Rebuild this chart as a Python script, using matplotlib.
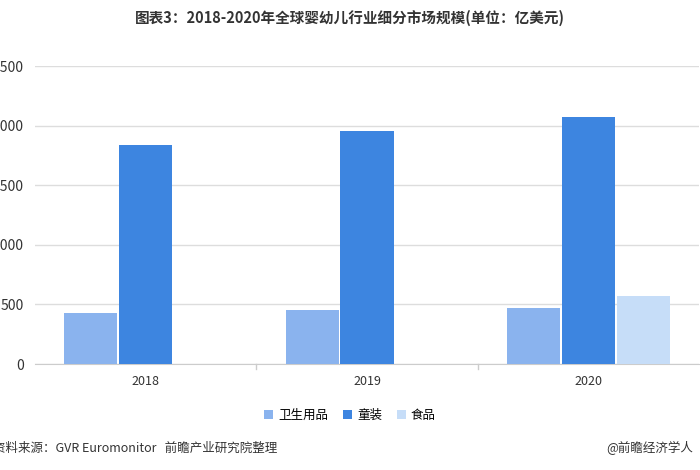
import matplotlib
matplotlib.use("Agg")
import matplotlib.pyplot as plt
import numpy as np

plt.rcParams['font.family'] = ['Noto Sans CJK SC', 'DejaVu Sans']

years = ['2018', '2019', '2020']
series = ['卫生用品', '童装', '食品']
hygiene = [430, 450, 467]
clothing = [1835, 1955, 2070]
food = [0, 0, 567]
colors = ['#8ab3ee', '#3d85e0', '#c6ddf8']

fig = plt.figure(figsize=(7, 4.7), dpi=100)
ax = fig.add_axes([35/700, 106/470, 664/700, 298/470])
x = np.arange(len(years))
w = 0.24
gap = 0.248
for i, (vals, name) in enumerate(zip([hygiene, clothing, food], series)):
    ax.bar(x + (i-1)*gap, vals, w, color=colors[i], label=name, zorder=3)
ax.set_xlim(-0.5, 2.5)
ax.set_ylim(0, 2500)
ax.set_yticks(range(0, 2501, 500))
ax.set_xticks(x)
ax.set_xticklabels(years, fontsize=9, color='#333333')
ax.tick_params(axis='y', labelsize=10, colors='#333333', length=0, pad=8)
ax.tick_params(axis='x', length=0, pad=8)
ax.grid(axis='y', color='#dddddd', lw=1, zorder=0)
for s in ['top', 'right', 'left']:
    ax.spines[s].set_visible(False)
ax.spines['bottom'].set_color('#cccccc')
for xv in [0.5, 1.5]:
    ax.plot([xv, xv], [0, -40], color='#cccccc', lw=1, clip_on=False)

fig.text(0.5, 1-18/470, '图表3：2018-2020年全球婴幼儿行业细分市场规模(单位：亿美元)',
         ha='center', va='center', fontsize=10.5, fontweight='bold', color='#333333')
fig.legend(loc='center', bbox_to_anchor=(0.5, 1-415/470), ncol=3, frameon=False,
           fontsize=9, handlelength=0.7, handleheight=0.7, columnspacing=1.2, handletextpad=0.4)
fig.text(-0.01, 1-448/470, '资料来源：GVR Euromonitor   前瞻产业研究院整理', ha='left', va='center',
         fontsize=9, color='#333333')
fig.text(0.99, 1-448/470, '@前瞻经济学人', ha='right', va='center', fontsize=9, color='#333333')
fig.savefig('out.png', dpi=100)
